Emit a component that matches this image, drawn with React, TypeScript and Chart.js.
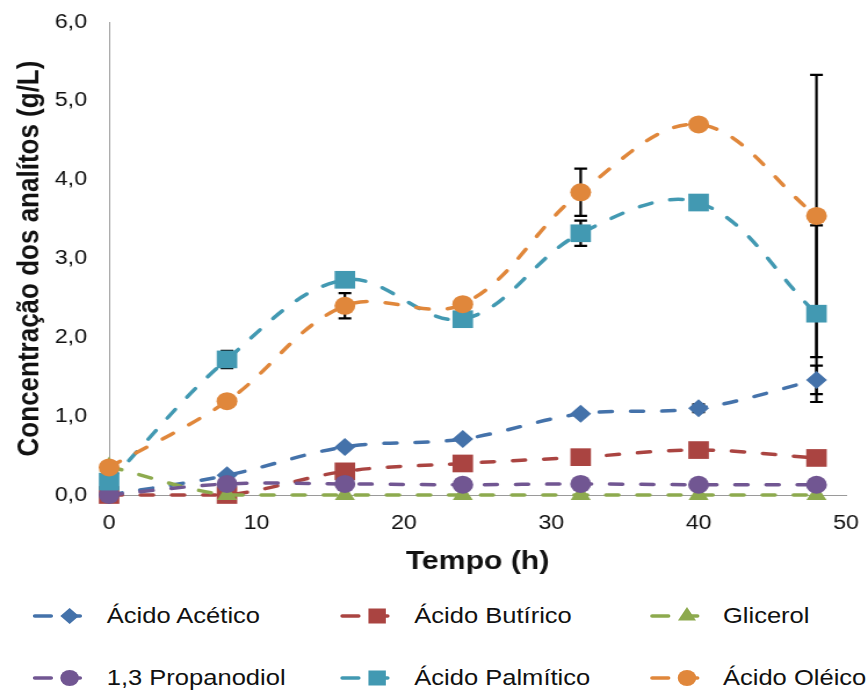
import React, { useEffect, useRef } from 'react';
import { Chart, registerables } from 'chart.js';

Chart.register(...registerables);

// ---- data ----
const hours = [0, 8, 16, 24, 32, 40, 48];
const acidoAcetico = [0.0, 0.25, 0.61, 0.71, 1.03, 1.1, 1.46];
const acidoButirico = [0.0, 0.0, 0.3, 0.4, 0.48, 0.57, 0.47];
const glicerol = [0.36, 0.0, 0.0, 0.0, 0.0, 0.0, 0.0];
const propanodiol = [0.0, 0.14, 0.14, 0.13, 0.14, 0.13, 0.13];
const acidoPalmitico = [0.17, 1.72, 2.73, 2.23, 3.32, 3.71, 2.3];
const acidoOleico = [0.35, 1.19, 2.4, 2.42, 3.84, 4.7, 3.54];

const erroAcetico = [0, 0, 0, 0, 0, 0.05, 0.18];
const erroPalmitico = [0, 0.11, 0, 0, 0.16, 0, 1.12];
const erroOleico = [0, 0, 0.16, 0, 0.3, 0, 1.79];

const seriesNames = [
  'Ácido Acético',
  'Ácido Butírico',
  'Glicerol',
  '1,3 Propanodiol',
  'Ácido Palmítico',
  'Ácido Oléico',
];
const seriesColors = ['#4472AA', '#AA4441', '#8DAA4E', '#715692', '#4299B2', '#E0873B'];
const seriesMarkers = ['rectRot', 'rect', 'triangle', 'circle', 'rect', 'circle'];

const xTitle = 'Tempo (h)';
const yTitle = 'Concentração dos analítos (g/L)';
const xMin = 0, xMax = 50, xStep = 10;
const yMin = 0, yMax = 6, yStep = 1;

// ---- layout (unscaled coordinates; whole figure is stretched horizontally) ----
const FIG_W = 868;
const BASE_W = 748;
const SX = FIG_W / BASE_W;
const FONT = "'Liberation Sans', Arial, sans-serif";

const markerRadius: Record<string, number> = { rectRot: 9, rect: 12.5, triangle: 10, circle: 9 };

const errorSets: Record<number, number[]> = { 0: erroAcetico, 4: erroPalmitico, 5: erroOleico };

const errorBarPlugin = {
  id: 'errorBars',
  beforeDatasetsDraw(chart: any) {
    const ctx = chart.ctx;
    const xs = chart.scales.x;
    const ys = chart.scales.y;
    ctx.save();
    ctx.strokeStyle = '#000';
    ctx.lineWidth = 2.2;
    Object.keys(errorSets).forEach((k) => {
      const idx = Number(k);
      const errs = errorSets[idx];
      const vals = [acidoAcetico, acidoButirico, glicerol, propanodiol, acidoPalmitico, acidoOleico][idx];
      errs.forEach((e, i) => {
        if (!e) return;
        const px = xs.getPixelForValue(hours[i]);
        const top = ys.getPixelForValue(vals[i] + e);
        const bot = ys.getPixelForValue(vals[i] - e);
        ctx.beginPath();
        ctx.moveTo(px, top);
        ctx.lineTo(px, bot);
        ctx.moveTo(px - 5.5, top);
        ctx.lineTo(px + 5.5, top);
        ctx.moveTo(px - 5.5, bot);
        ctx.lineTo(px + 5.5, bot);
        ctx.stroke();
      });
    });
    ctx.restore();
  },
};

function LegendIcon({ color, marker }: { color: string; marker: string }) {
  const cy = 12;
  const cx = 32;
  let shape: any = null;
  if (marker === 'rectRot') {
    const r = 8;
    shape = <polygon points={`${cx},${cy - r} ${cx + r},${cy} ${cx},${cy + r} ${cx - r},${cy}`} fill={color} />;
  } else if (marker === 'rect') {
    const h = 7.5;
    shape = <rect x={cx - h} y={cy - h} width={2 * h} height={2 * h} fill={color} />;
  } else if (marker === 'triangle') {
    const r = 9;
    shape = (
      <polygon
        points={`${cx},${cy - r} ${cx + r * 0.866},${cy + r / 2} ${cx - r * 0.866},${cy + r / 2}`}
        fill={color}
      />
    );
  } else {
    shape = <circle cx={cx} cy={cy} r={8} fill={color} />;
  }
  return (
    <svg width={46} height={24} style={{ position: 'absolute', left: 0, top: 0, overflow: 'visible' }}>
      <line x1={2} y1={cy} x2={16} y2={cy} stroke={color} strokeWidth={3.5} strokeLinecap="round" />
      <line x1={cx} y1={cy} x2={cx + 9} y2={cy} stroke={color} strokeWidth={3.5} strokeLinecap="round" />
      {shape}
    </svg>
  );
}

const legendCols = [28.4, 293, 560];
const legendTextCols = [92, 357, 623];
const legendRows = [616, 678];

export default function App() {
  const canvasRef = useRef<HTMLCanvasElement | null>(null);

  useEffect(() => {
    if (!canvasRef.current) return;
    const all = [acidoAcetico, acidoButirico, glicerol, propanodiol, acidoPalmitico, acidoOleico];
    const datasets = all.map((vals, i) => ({
      label: seriesNames[i],
      data: vals.map((v, j) => ({ x: hours[j], y: v })),
      borderColor: seriesColors[i],
      backgroundColor: seriesColors[i],
      pointBackgroundColor: seriesColors[i],
      pointBorderColor: seriesColors[i],
      pointBorderWidth: 0,
      pointStyle: seriesMarkers[i],
      pointRadius: markerRadius[seriesMarkers[i]],
      borderWidth: 3.5,
      borderDash: [11, 16],
      borderCapStyle: 'round',
      tension: 0.36,
      fill: false,
      clip: false,
      order: 10 - i,
    }));

    const chart = new Chart(canvasRef.current, {
      type: 'line',
      data: { datasets } as any,
      plugins: [errorBarPlugin],
      options: {
        animation: false,
        responsive: true,
        maintainAspectRatio: false,
        events: [],
        layout: { padding: { top: 22, right: 19, left: 0, bottom: 0 } },
        plugins: {
          legend: { display: false },
          tooltip: { enabled: false },
        },
        scales: {
          x: {
            type: 'linear',
            min: xMin,
            max: xMax,
            afterFit: (s: any) => {
              s.height = 95;
              s.paddingLeft = 0;
              s.paddingRight = 0;
            },
            grid: { display: false, drawTicks: false },
            border: { display: true, color: '#9a9a9a', width: 1 },
            ticks: {
              stepSize: xStep,
              padding: 16,
              color: '#111',
              font: { family: FONT, size: 20 },
              maxRotation: 0,
              callback: (v: any) => String(v),
            },
            title: {
              display: true,
              text: xTitle,
              color: '#111',
              font: { family: FONT, size: 26, weight: 'bold' },
              padding: { top: 0, bottom: 13 },
            },
          },
          y: {
            type: 'linear',
            min: yMin,
            max: yMax,
            afterFit: (s: any) => {
              s.width = 94;
              s.paddingTop = 0;
              s.paddingBottom = 0;
            },
            grid: { display: false, drawTicks: false },
            border: { display: true, color: '#9a9a9a', width: 1 },
            ticks: {
              stepSize: yStep,
              padding: 19,
              color: '#111',
              font: { family: FONT, size: 20 },
              callback: (v: any) => Number(v).toFixed(1).replace('.', ','),
            },
            title: {
              display: true,
              text: yTitle,
              color: '#111',
              font: { family: FONT, size: 26, weight: 'bold' },
              padding: { top: 10, bottom: 0 },
            },
          },
        },
      } as any,
    });
    return () => chart.destroy();
  }, []);

  return (
    <div
      style={{
        position: 'absolute',
        left: 0,
        top: 0,
        width: BASE_W,
        height: 694,
        transform: `scaleX(${SX})`,
        transformOrigin: '0 0',
        background: '#fff',
      }}
    >
      <div style={{ position: 'absolute', left: 0, top: 0, width: BASE_W, height: 590 }}>
        <canvas ref={canvasRef} />
      </div>
      {seriesNames.map((name, i) => {
        const col = i % 3;
        const row = Math.floor(i / 3);
        const cy = legendRows[row];
        return (
          <React.Fragment key={name}>
            <div style={{ position: 'absolute', left: legendCols[col], top: cy - 12, width: 46, height: 24 }}>
              <LegendIcon color={seriesColors[i]} marker={seriesMarkers[i]} />
            </div>
            <div
              style={{
                position: 'absolute',
                left: legendTextCols[col],
                top: cy - 15,
                height: 30,
                lineHeight: '30px',
                fontFamily: FONT,
                fontSize: 22,
                color: '#111',
                whiteSpace: 'nowrap',
              }}
            >
              {name}
            </div>
          </React.Fragment>
        );
      })}
    </div>
  );
}
